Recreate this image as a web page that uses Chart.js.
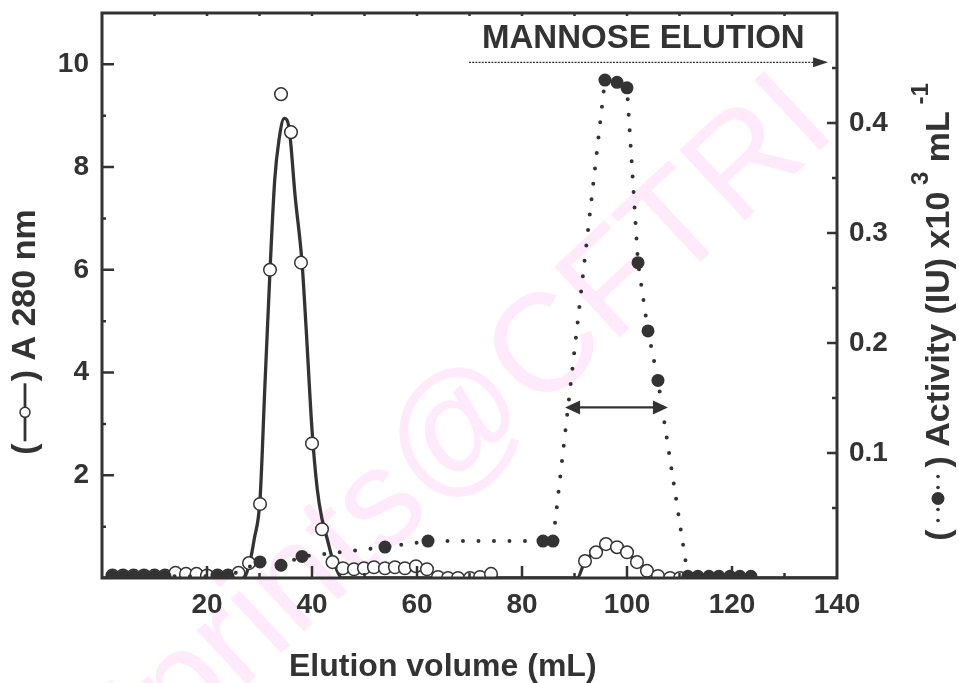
<!DOCTYPE html>
<html>
<head>
<meta charset="utf-8">
<title>Elution profile</title>
<script src="https://cdn.jsdelivr.net/npm/chart.js@4.4.0/dist/chart.umd.min.js"></script>
<style>
  html, body { margin: 0; padding: 0; background: #fff; }
  canvas { display: block; }
</style>
</head>
<body>
<canvas id="elutionChart" width="959" height="683"></canvas>
<script>
// Absorbance at 280 nm (open circles)
const a280Volume = [2, 4, 6, 8, 10, 12, 14, 16, 18, 20, 22, 24, 26, 28.0, 30.1, 32.0, 34.1, 36.0, 37.9, 40.0, 41.9, 43.9,
  45.9, 48.0, 49.9, 51.8, 53.9, 55.8, 57.7, 59.8, 61.9, 64.0, 65.9, 67.8, 70.1, 72.0, 74.1,
  92.0, 94.1, 96.0, 98.1, 100.0, 101.9, 103.8, 105.9, 108.2, 110.1];
const a280Abs = [0.05, 0.05, 0.05, 0.05, 0.05, 0.05, 0.10, 0.08, 0.08, 0.05, 0.05, 0.05, 0.10, 0.29, 1.44, 6.00, 9.42, 8.68, 6.14, 2.62, 0.95, 0.31,
  0.19, 0.17, 0.19, 0.21, 0.19, 0.21, 0.19, 0.23, 0.17, 0.02, 0.00, 0.00, 0.00, 0.02, 0.08,
  0.33, 0.50, 0.66, 0.60, 0.50, 0.31, 0.14, 0.04, 0.00, 0.00];

// smoothed A280 profile (solid line)
const fitVolume = [0, 26.9, 28.2, 29.0, 30.1, 31.0, 32.0, 32.9, 33.7, 34.7, 35.6, 36.8, 38.1, 38.9, 40.0, 41.0, 41.9, 42.9, 43.8, 44.8, 45.7,
  90.5, 92.0, 94.1, 96.0, 98.1, 100.0, 101.9, 103.8, 105.9, 108.0, 140];
const fitAbs = [0, 0, 0.33, 0.76, 1.53, 3.67, 5.98, 7.75, 8.52, 8.95, 8.78, 7.42, 6.14, 4.83, 2.89, 1.73, 1.15, 0.76, 0.41, 0.14, 0,
  0, 0.33, 0.52, 0.64, 0.60, 0.49, 0.31, 0.14, 0.02, 0, 0];

// Lectin activity, IU x10^3 per mL (filled circles, dotted line)
const actVolume = [2, 4, 6, 8, 10, 12, 22, 24, 30.1, 34.1, 38.1, 53.9, 62.1, 84.0, 85.9,
  95.8, 98.1, 100.0, 102.1, 104.0, 105.9, 111.6, 113.5, 115.6, 117.5, 119.6, 121.5, 123.6];
const actValue = [-0.012, -0.012, -0.012, -0.012, -0.012, -0.012, -0.012, -0.012, 0.001, -0.002, 0.006, 0.0145, 0.020, 0.020, 0.020,
  0.439, 0.437, 0.432, 0.273, 0.211, 0.166, -0.012, -0.012, -0.012, -0.012, -0.012, -0.012, -0.012];

const xTickLabels = [20, 40, 60, 80, 100, 120, 140];
const leftTickLabels = [2, 4, 6, 8, 10];
const rightTickLabels = [0.1, 0.2, 0.3, 0.4];

const INK = '#333';
const FAMILY = "'Liberation Sans', Arial, Helvetica, sans-serif";
const tickFont = { family: FAMILY, size: 28, weight: 'bold' };

const toPoints = (xs, ys) => xs.map((x, i) => ({ x: x, y: ys[i] }));

// faint diagonal repository stamp behind the plot
const stampPlugin = {
  id: 'stamp',
  beforeDraw(chart) {
    const ctx = chart.ctx;
    ctx.save();
    ctx.fillStyle = '#fff';
    ctx.fillRect(0, 0, chart.width, chart.height);
    ctx.translate(115, 808);
    ctx.rotate(-43 * Math.PI / 180);
    ctx.font = '140px ' + FAMILY;
    ctx.fillStyle = '#ffeafc';
    ctx.textBaseline = 'alphabetic';
    ctx.fillText('Eprints@CFTRI', 0, 0);
    ctx.restore();
  }
};

function arrowHead(ctx, tipX, tipY, dir, len, half) {
  ctx.beginPath();
  ctx.moveTo(tipX, tipY);
  ctx.lineTo(tipX - dir * len, tipY - half);
  ctx.lineTo(tipX - dir * len, tipY + half);
  ctx.closePath();
  ctx.fill();
}

// draws a run of text pieces and key symbols along the current baseline
function drawRun(ctx, parts) {
  let x = 0;
  parts.forEach(p => {
    if (p.text !== undefined) {
      ctx.font = p.font;
      ctx.fillText(p.text, x, -(p.rise || 0));
      x += ctx.measureText(p.text).width;
    } else {
      p.draw(ctx, x);
      x += p.width;
    }
  });
  return x;
}

function runWidth(ctx, parts) {
  let w = 0;
  parts.forEach(p => {
    if (p.text !== undefined) {
      ctx.font = p.font;
      w += ctx.measureText(p.text).width;
    } else {
      w += p.width;
    }
  });
  return w;
}

const titleFont = 'bold 34px ' + FAMILY;
const supFont = 'bold 24px ' + FAMILY;

const leftTitle = [
  { text: '(', font: titleFont },
  { width: 62, draw(ctx, x) {
      ctx.lineWidth = 2.8;
      ctx.strokeStyle = INK;
      ctx.beginPath();
      ctx.moveTo(x + 2, -10);
      ctx.lineTo(x + 60, -10);
      ctx.stroke();
      ctx.beginPath();
      ctx.arc(x + 31, -10, 5, 0, Math.PI * 2);
      ctx.fillStyle = '#fff';
      ctx.fill();
      ctx.lineWidth = 1.5;
      ctx.stroke();
      ctx.fillStyle = INK;
    } },
  { text: ') A 280 nm', font: titleFont }
];

const rightTitle = [
  { text: '(', font: titleFont },
  { width: 62, draw(ctx, x) {
      [9, 20, 42, 53].forEach(d => {
        ctx.beginPath();
        ctx.arc(x + d, -11, 1.8, 0, Math.PI * 2);
        ctx.fill();
      });
      ctx.beginPath();
      ctx.arc(x + 31, -11, 6.5, 0, Math.PI * 2);
      ctx.fill();
    } },
  { text: ') Activity (IU) x10', font: titleFont },
  { text: ' 3', font: supFont, rise: 21 },
  { text: ' mL', font: titleFont },
  { text: ' -1', font: supFont, rise: 21 }
];

const framePlugin = {
  id: 'frame',
  afterDraw(chart) {
    const ctx = chart.ctx;
    const { left, right, top, bottom } = chart.chartArea;
    const xs = chart.scales.x, ys = chart.scales.y, rs = chart.scales.y1;
    ctx.save();
    ctx.strokeStyle = INK;
    ctx.fillStyle = INK;
    ctx.lineCap = 'butt';

    // inward tick marks
    ctx.lineWidth = 2.5;
    ctx.beginPath();
    for (let v = 10; v < 140; v += 10) {
      const px = xs.getPixelForValue(v);
      const len = v % 20 === 0 ? 12 : 5;
      ctx.moveTo(px, bottom);
      ctx.lineTo(px, bottom - len);
      ctx.moveTo(px, top);
      ctx.lineTo(px, top + 3);
    }
    for (let v = 1; v <= 10; v++) {
      const py = ys.getPixelForValue(v);
      ctx.moveTo(left, py);
      ctx.lineTo(left + (v % 2 === 0 ? 12 : 4), py);
    }
    for (let k = 1; k <= 9; k++) {
      const py = rs.getPixelForValue(k * 0.05);
      ctx.moveTo(right, py);
      ctx.lineTo(right - (k % 2 === 0 ? 10 : 5), py);
    }
    ctx.stroke();

    // plot frame
    ctx.lineWidth = 3;
    ctx.strokeRect(left, top, right - left, bottom - top);

    // peak-width marker
    const ay = ys.getPixelForValue(3.32);
    const ax1 = xs.getPixelForValue(88.2), ax2 = xs.getPixelForValue(107.8);
    ctx.lineWidth = 2.2;
    ctx.beginPath();
    ctx.moveTo(ax1 + 10, ay);
    ctx.lineTo(ax2 - 10, ay);
    ctx.stroke();
    arrowHead(ctx, ax1, ay, -1, 15, 7);
    arrowHead(ctx, ax2, ay, 1, 15, 7);

    // mannose elution marker
    const my = ys.getPixelForValue(10.04);
    const mx1 = xs.getPixelForValue(69.9), mx2 = xs.getPixelForValue(138.3);
    ctx.lineWidth = 1.3;
    ctx.setLineDash([2, 1.2]);
    ctx.beginPath();
    ctx.moveTo(mx1, my);
    ctx.lineTo(mx2 - 12, my);
    ctx.stroke();
    ctx.setLineDash([]);
    arrowHead(ctx, mx2, my, 1, 15, 5);

    ctx.font = 'bold 33px ' + FAMILY;
    ctx.textAlign = 'left';
    ctx.textBaseline = 'alphabetic';
    ctx.fillText('MANNOSE ELUTION', 482, 48);

    // axis titles
    ctx.font = 'bold 32px ' + FAMILY;
    ctx.fillText('Elution volume (mL)', 289, 676);

    let w = runWidth(ctx, leftTitle);
    ctx.save();
    ctx.translate(35, 332 + w / 2);
    ctx.rotate(-Math.PI / 2);
    drawRun(ctx, leftTitle);
    ctx.restore();

    w = runWidth(ctx, rightTitle);
    ctx.save();
    ctx.translate(949, 312 + w / 2);
    ctx.rotate(-Math.PI / 2);
    drawRun(ctx, rightTitle);
    ctx.restore();

    ctx.restore();
  }
};

const hiddenGrid = { display: false, drawTicks: false };
const hiddenBorder = { display: false };

new Chart(document.getElementById('elutionChart'), {
  type: 'line',
  data: {
    datasets: [
      {
        label: 'Activity',
        yAxisID: 'y1',
        data: toPoints(actVolume, actValue),
        borderColor: INK,
        borderWidth: 4,
        borderDash: [0, 15.5],
        borderCapStyle: 'round',
        tension: 0,
        pointRadius: 6.5,
        pointBackgroundColor: INK,
        pointBorderColor: INK,
        pointBorderWidth: 0
      },
      {
        label: 'A280',
        yAxisID: 'y',
        data: toPoints(a280Volume, a280Abs),
        showLine: false,
        pointRadius: 6.3,
        pointBackgroundColor: '#fff',
        pointBorderColor: INK,
        pointBorderWidth: 1.5
      },
      {
        label: 'A280 profile',
        yAxisID: 'y',
        data: toPoints(fitVolume, fitAbs),
        borderColor: INK,
        borderWidth: 3.3,
        pointRadius: 0,
        cubicInterpolationMode: 'monotone'
      }
    ]
  },
  options: {
    responsive: false,
    animation: false,
    devicePixelRatio: 1,
    layout: { padding: { top: 13, left: 0, right: 0, bottom: 0 }, autoPadding: false },
    plugins: { legend: { display: false }, tooltip: { enabled: false } },
    scales: {
      x: {
        type: 'linear',
        position: 'bottom',
        min: 0,
        max: 140,
        grid: hiddenGrid,
        border: hiddenBorder,
        ticks: { font: tickFont, color: INK, padding: 10, maxRotation: 0, autoSkip: false, callback: v => String(v) },
        afterBuildTicks: s => { s.ticks = xTickLabels.map(v => ({ value: v })); },
        afterFit: s => { s.height = 105; s.paddingLeft = 0; s.paddingRight = 0; }
      },
      y: {
        position: 'left',
        min: 0,
        max: 11,
        grid: hiddenGrid,
        border: hiddenBorder,
        ticks: { font: tickFont, color: INK, padding: 13, autoSkip: false, callback: v => String(v) },
        afterBuildTicks: s => { s.ticks = leftTickLabels.map(v => ({ value: v })); },
        afterFit: s => { s.width = 102; s.paddingTop = 0; s.paddingBottom = 0; }
      },
      y1: {
        position: 'right',
        min: -0.0136,
        max: 0.5,
        grid: hiddenGrid,
        border: hiddenBorder,
        ticks: { font: tickFont, color: INK, padding: 12, autoSkip: false, callback: v => v.toFixed(1) },
        afterBuildTicks: s => { s.ticks = rightTickLabels.map(v => ({ value: v })); },
        afterFit: s => { s.width = 122; s.paddingTop = 0; s.paddingBottom = 0; }
      }
    }
  },
  plugins: [stampPlugin, framePlugin]
});
</script>
</body>
</html>
